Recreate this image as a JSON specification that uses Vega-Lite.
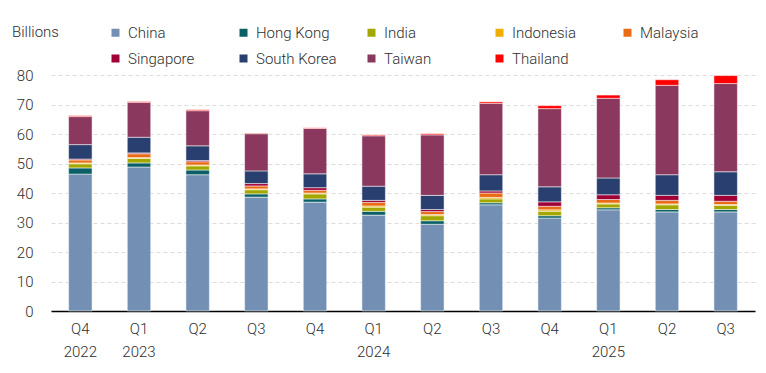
{
  "$schema": "https://vega.github.io/schema/vega-lite/v6.json",
  "width": 704,
  "height": 236,
  "autosize": {"type": "none"},
  "padding": {"left": 51, "top": 75, "right": 11, "bottom": 62},
  "config": {
    "view": {"stroke": null},
    "font": "Roboto, sans-serif"
  },
  "data": {
    "values": [
      {"p": "Q4 2022", "c": "China", "v": 46.4}, {"p": "Q4 2022", "c": "Hong Kong", "v": 2.1}, {"p": "Q4 2022", "c": "India", "v": 1.4}, {"p": "Q4 2022", "c": "Indonesia", "v": 0.3}, {"p": "Q4 2022", "c": "Malaysia", "v": 1.0}, {"p": "Q4 2022", "c": "Singapore", "v": 0.3}, {"p": "Q4 2022", "c": "South Korea", "v": 4.9}, {"p": "Q4 2022", "c": "Taiwan", "v": 9.5}, {"p": "Q4 2022", "c": "Thailand", "v": 0.3},
      {"p": "Q1 2023", "c": "China", "v": 48.8}, {"p": "Q1 2023", "c": "Hong Kong", "v": 1.4}, {"p": "Q1 2023", "c": "India", "v": 1.5}, {"p": "Q1 2023", "c": "Indonesia", "v": 0.3}, {"p": "Q1 2023", "c": "Malaysia", "v": 1.3}, {"p": "Q1 2023", "c": "Singapore", "v": 0.3}, {"p": "Q1 2023", "c": "South Korea", "v": 5.3}, {"p": "Q1 2023", "c": "Taiwan", "v": 11.8}, {"p": "Q1 2023", "c": "Thailand", "v": 0.3},
      {"p": "Q2 2023", "c": "China", "v": 46.2}, {"p": "Q2 2023", "c": "Hong Kong", "v": 1.6}, {"p": "Q2 2023", "c": "India", "v": 1.4}, {"p": "Q2 2023", "c": "Indonesia", "v": 0.3}, {"p": "Q2 2023", "c": "Malaysia", "v": 1.1}, {"p": "Q2 2023", "c": "Singapore", "v": 0.4}, {"p": "Q2 2023", "c": "South Korea", "v": 5.0}, {"p": "Q2 2023", "c": "Taiwan", "v": 11.9}, {"p": "Q2 2023", "c": "Thailand", "v": 0.3},
      {"p": "Q3 2023", "c": "China", "v": 38.6}, {"p": "Q3 2023", "c": "Hong Kong", "v": 1.1}, {"p": "Q3 2023", "c": "India", "v": 1.4}, {"p": "Q3 2023", "c": "Indonesia", "v": 0.3}, {"p": "Q3 2023", "c": "Malaysia", "v": 1.0}, {"p": "Q3 2023", "c": "Singapore", "v": 0.8}, {"p": "Q3 2023", "c": "South Korea", "v": 4.3}, {"p": "Q3 2023", "c": "Taiwan", "v": 12.6}, {"p": "Q3 2023", "c": "Thailand", "v": 0.2},
      {"p": "Q4 2023", "c": "China", "v": 36.9}, {"p": "Q4 2023", "c": "Hong Kong", "v": 1.1}, {"p": "Q4 2023", "c": "India", "v": 1.7}, {"p": "Q4 2023", "c": "Indonesia", "v": 0.3}, {"p": "Q4 2023", "c": "Malaysia", "v": 0.9}, {"p": "Q4 2023", "c": "Singapore", "v": 0.9}, {"p": "Q4 2023", "c": "South Korea", "v": 4.7}, {"p": "Q4 2023", "c": "Taiwan", "v": 15.4}, {"p": "Q4 2023", "c": "Thailand", "v": 0.2},
      {"p": "Q1 2024", "c": "China", "v": 32.5}, {"p": "Q1 2024", "c": "Hong Kong", "v": 1.3}, {"p": "Q1 2024", "c": "India", "v": 1.4}, {"p": "Q1 2024", "c": "Indonesia", "v": 0.4}, {"p": "Q1 2024", "c": "Malaysia", "v": 1.2}, {"p": "Q1 2024", "c": "Singapore", "v": 0.7}, {"p": "Q1 2024", "c": "South Korea", "v": 4.8}, {"p": "Q1 2024", "c": "Taiwan", "v": 17.1}, {"p": "Q1 2024", "c": "Thailand", "v": 0.3},
      {"p": "Q2 2024", "c": "China", "v": 29.4}, {"p": "Q2 2024", "c": "Hong Kong", "v": 1.2}, {"p": "Q2 2024", "c": "India", "v": 1.7}, {"p": "Q2 2024", "c": "Indonesia", "v": 0.4}, {"p": "Q2 2024", "c": "Malaysia", "v": 1.0}, {"p": "Q2 2024", "c": "Singapore", "v": 0.7}, {"p": "Q2 2024", "c": "South Korea", "v": 4.8}, {"p": "Q2 2024", "c": "Taiwan", "v": 20.5}, {"p": "Q2 2024", "c": "Thailand", "v": 0.4},
      {"p": "Q3 2024", "c": "China", "v": 36.0}, {"p": "Q3 2024", "c": "Hong Kong", "v": 0.7}, {"p": "Q3 2024", "c": "India", "v": 1.3}, {"p": "Q3 2024", "c": "Indonesia", "v": 0.5}, {"p": "Q3 2024", "c": "Malaysia", "v": 1.5}, {"p": "Q3 2024", "c": "Singapore", "v": 0.7}, {"p": "Q3 2024", "c": "South Korea", "v": 5.5}, {"p": "Q3 2024", "c": "Taiwan", "v": 24.2}, {"p": "Q3 2024", "c": "Thailand", "v": 0.5},
      {"p": "Q4 2024", "c": "China", "v": 31.5}, {"p": "Q4 2024", "c": "Hong Kong", "v": 0.8}, {"p": "Q4 2024", "c": "India", "v": 1.5}, {"p": "Q4 2024", "c": "Indonesia", "v": 0.5}, {"p": "Q4 2024", "c": "Malaysia", "v": 1.2}, {"p": "Q4 2024", "c": "Singapore", "v": 1.5}, {"p": "Q4 2024", "c": "South Korea", "v": 5.1}, {"p": "Q4 2024", "c": "Taiwan", "v": 26.5}, {"p": "Q4 2024", "c": "Thailand", "v": 1.0},
      {"p": "Q1 2025", "c": "China", "v": 34.3}, {"p": "Q1 2025", "c": "Hong Kong", "v": 0.7}, {"p": "Q1 2025", "c": "India", "v": 1.3}, {"p": "Q1 2025", "c": "Indonesia", "v": 0.3}, {"p": "Q1 2025", "c": "Malaysia", "v": 1.2}, {"p": "Q1 2025", "c": "Singapore", "v": 1.6}, {"p": "Q1 2025", "c": "South Korea", "v": 5.7}, {"p": "Q1 2025", "c": "Taiwan", "v": 27.0}, {"p": "Q1 2025", "c": "Thailand", "v": 1.1},
      {"p": "Q2 2025", "c": "China", "v": 33.6}, {"p": "Q2 2025", "c": "Hong Kong", "v": 0.8}, {"p": "Q2 2025", "c": "India", "v": 1.6}, {"p": "Q2 2025", "c": "Indonesia", "v": 0.3}, {"p": "Q2 2025", "c": "Malaysia", "v": 1.2}, {"p": "Q2 2025", "c": "Singapore", "v": 1.7}, {"p": "Q2 2025", "c": "South Korea", "v": 7.0}, {"p": "Q2 2025", "c": "Taiwan", "v": 30.3}, {"p": "Q2 2025", "c": "Thailand", "v": 1.9},
      {"p": "Q3 2025", "c": "China", "v": 33.6}, {"p": "Q3 2025", "c": "Hong Kong", "v": 0.8}, {"p": "Q3 2025", "c": "India", "v": 1.4}, {"p": "Q3 2025", "c": "Indonesia", "v": 0.3}, {"p": "Q3 2025", "c": "Malaysia", "v": 1.1}, {"p": "Q3 2025", "c": "Singapore", "v": 2.0}, {"p": "Q3 2025", "c": "South Korea", "v": 8.0}, {"p": "Q3 2025", "c": "Taiwan", "v": 29.9}, {"p": "Q3 2025", "c": "Thailand", "v": 2.7}
    ]
  },
  "mark": {"type": "bar", "stroke": "#ffffff", "strokeOpacity": 0.5, "strokeWidth": 1},
  "encoding": {
    "x": {
      "field": "p",
      "type": "ordinal",
      "sort": null,
      "scale": {"paddingInner": 0.6, "paddingOuter": 0.3},
      "axis": {
        "title": null,
        "labelAngle": 0,
        "ticks": false,
        "domainColor": "#000000",
        "domainWidth": 1.5,
        "labelFontSize": 15,
        "labelFontWeight": 300,
        "labelColor": "#2e2e2e",
        "labelPadding": 10,
        "labelLineHeight": 23,
        "labelExpr": "indexof(['Q4 2022','Q1 2023','Q1 2024','Q1 2025'], datum.value) >= 0 ? split(datum.value, ' ') : slice(datum.value, 0, 2)"
      }
    },
    "y": {
      "field": "v",
      "type": "quantitative",
      "stack": "zero",
      "scale": {"domain": [0, 80], "nice": false},
      "axis": {
        "title": null,
        "values": [0, 10, 20, 30, 40, 50, 60, 70, 80],
        "domain": false,
        "ticks": false,
        "labelFontSize": 15,
        "labelFontWeight": 300,
        "labelColor": "#2e2e2e",
        "labelPadding": 18,
        "gridColor": "#dcdcdc",
        "gridDash": [4, 3],
        "gridWidth": 1
      }
    },
    "order": {"field": "c", "sort": "ascending"},
    "color": {
      "field": "c",
      "type": "nominal",
      "scale": {
        "domain": ["China", "Hong Kong", "India", "Indonesia", "Malaysia", "Singapore", "South Korea", "Taiwan", "Thailand"],
        "range": ["#7390b4", "#0a6066", "#a2a800", "#f2ae00", "#e96b15", "#a00036", "#293f6f", "#8a385d", "#ff0000"]
      },
      "legend": {
        "title": "Billions",
        "orient": "none",
        "legendX": -39,
        "legendY": -50,
        "direction": "horizontal",
        "columns": 5,
        "gridAlign": "all",
        "columnPadding": 27,
        "rowPadding": 10,
        "symbolType": "square",
        "symbolSize": 64,
        "symbolStrokeWidth": 0,
        "labelOffset": 5,
        "labelFontSize": 15,
        "labelFontWeight": 300,
        "labelColor": "#2e2e2e",
        "titleOrient": "left",
        "titleAnchor": "start",
        "titleFontSize": 15,
        "titleFontWeight": 300,
        "titleColor": "#2e2e2e",
        "titlePadding": 49,
        "titleBaseline": "top"
      }
    }
  }
}
